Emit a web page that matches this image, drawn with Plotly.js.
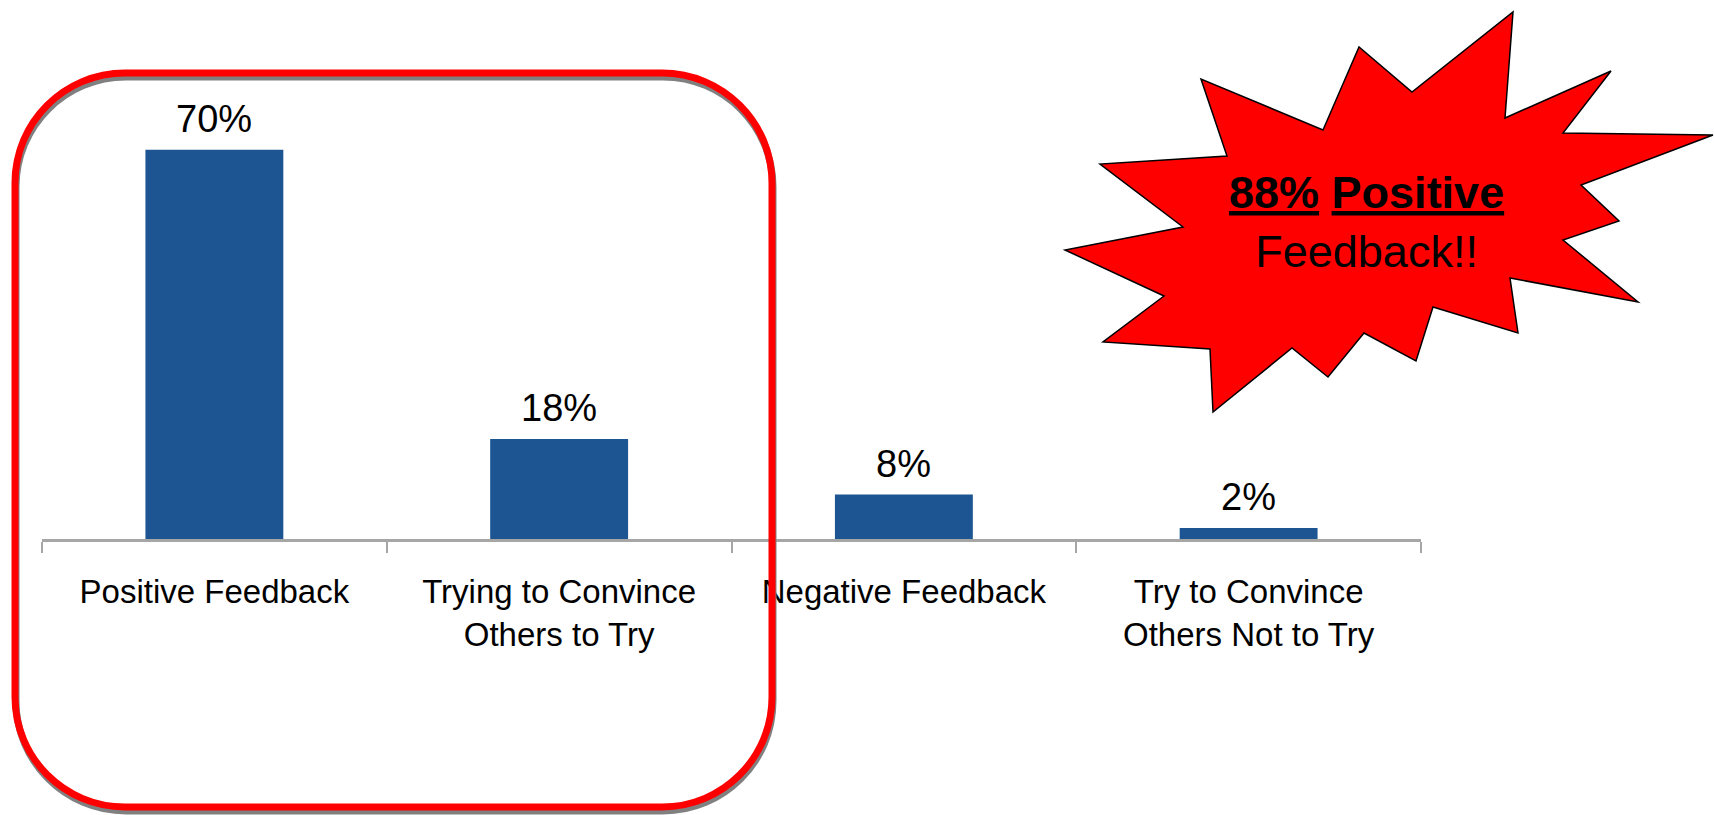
<!DOCTYPE html>
<html>
<head>
<meta charset="utf-8">
<script src="https://cdn.plot.ly/plotly-3.0.1.min.js"></script>
<style>
html, body { margin: 0; padding: 0; background: #ffffff; }
#chart { width: 1714px; height: 815px; }
</style>
</head>
<body>
<div id="chart"></div>
<script>
// ---- data ----
const categories = [
  "Positive Feedback",
  "Trying to Convince<br>Others to Try",
  "Negative Feedback",
  "Try to Convince<br>Others Not to Try"
];
const values = [70, 18, 8, 2];
const valueLabels = ["70%", "18%", "8%", "2%"];
const calloutText = "<b><u>88%</u> <u>Positive</u></b><br>Feedback!!";

// ---- geometry helpers (decoration only) ----
const W = 1714, H = 815;
const M = { l: 42, r: 293, t: 94, b: 276 };
const PW = W - M.l - M.r, PH = H - M.t - M.b;
const px2x = px => (px - M.l) / PW;
const px2y = py => (H - M.b - py) / PH;
const P = (x, y) => px2x(x).toFixed(5) + ',' + px2y(y).toFixed(5);

function roundRectPath(x0, y0, x1, y1, r) {
  const k = 0.5523 * r;
  return 'M' + P(x0 + r, y0) +
    ' L' + P(x1 - r, y0) +
    ' C' + P(x1 - r + k, y0) + ' ' + P(x1, y0 + r - k) + ' ' + P(x1, y0 + r) +
    ' L' + P(x1, y1 - r) +
    ' C' + P(x1, y1 - r + k) + ' ' + P(x1 - r + k, y1) + ' ' + P(x1 - r, y1) +
    ' L' + P(x0 + r, y1) +
    ' C' + P(x0 + r - k, y1) + ' ' + P(x0, y1 - r + k) + ' ' + P(x0, y1 - r) +
    ' L' + P(x0, y0 + r) +
    ' C' + P(x0, y0 + r - k) + ' ' + P(x0 + r - k, y0) + ' ' + P(x0 + r, y0) + ' Z';
}

const burstPts = [
  [1513, 12], [1505, 118], [1611, 71], [1563, 133], [1713, 135], [1581, 185],
  [1619, 221], [1563, 240], [1638, 302], [1510, 278], [1518, 333], [1433, 307],
  [1416, 361], [1364, 333], [1328, 377], [1292, 348], [1213, 412], [1210, 349],
  [1103, 342], [1164, 296], [1065, 250], [1183, 227], [1100, 164], [1227, 156],
  [1201, 79], [1323, 130], [1359, 47], [1412, 92]
];
const burstPath = burstPts.map((p, i) => (i ? 'L' : 'M') + P(p[0], p[1])).join(' ') + ' Z';

const trace = {
  type: 'bar',
  x: categories,
  y: values,
  marker: { color: '#1C5592', line: { width: 0 } },
  hoverinfo: 'none'
};

const annotations = values.map((v, i) => ({
  x: categories[i], y: v, xref: 'x', yref: 'y',
  text: valueLabels[i], showarrow: false,
  yanchor: 'bottom', yshift: 8,
  font: { size: 38, color: '#000000', family: 'Liberation Sans, Arial, sans-serif' }
}));
annotations.push({
  xref: 'paper', yref: 'paper',
  x: px2x(1366), y: px2y(222),
  xanchor: 'center', yanchor: 'middle',
  text: calloutText, showarrow: false, align: 'center',
  font: { size: 45, color: '#000000', family: 'Liberation Sans, Arial, sans-serif' }
});

const layout = {
  width: W, height: H,
  margin: M,
  paper_bgcolor: '#ffffff', plot_bgcolor: '#ffffff',
  showlegend: false,
  bargap: 0.6,
  font: { family: 'Liberation Sans, Arial, sans-serif', color: '#000000' },
  xaxis: {
    type: 'category',
    showline: true, linecolor: '#A6A6A6', linewidth: 3,
    ticks: 'outside', tickson: 'boundaries', ticklen: 11, tickwidth: 2, tickcolor: '#A6A6A6',
    tickfont: { size: 33, color: '#000000' },
    ticklabelstandoff: 21,
    tickangle: 0,
    showgrid: false, zeroline: false, automargin: false, fixedrange: true
  },
  yaxis: { visible: false, range: [0, 80], showgrid: false, zeroline: false, fixedrange: true },
  shapes: [
    { type: 'path', xref: 'paper', yref: 'paper', layer: 'above',
      path: roundRectPath(16, 77, 773, 811, 110),
      line: { color: '#808080', width: 7 }, fillcolor: 'rgba(0,0,0,0)' },
    { type: 'path', xref: 'paper', yref: 'paper', layer: 'above',
      path: roundRectPath(15, 73, 772, 807, 110),
      line: { color: '#FF0000', width: 7 }, fillcolor: 'rgba(0,0,0,0)' },
    { type: 'path', xref: 'paper', yref: 'paper', layer: 'above',
      path: burstPath,
      line: { color: '#000000', width: 1.5 }, fillcolor: '#FF0000' }
  ],
  annotations: annotations
};

Plotly.newPlot('chart', [trace], layout, { staticPlot: true, displayModeBar: false });
</script>
</body>
</html>
